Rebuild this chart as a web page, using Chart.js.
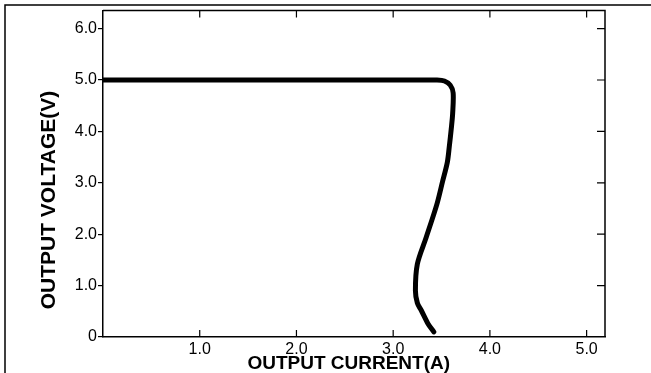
<!DOCTYPE html>
<html>
<head>
<meta charset="utf-8">
<script src="https://cdn.jsdelivr.net/npm/chart.js@4/dist/chart.umd.min.js"></script>
<style>
  html, body { margin: 0; padding: 0; background: #ffffff; }
  #wrap { width: 651px; height: 373px; position: relative; }
</style>
</head>
<body>
<div id="wrap"><canvas id="c" width="651" height="373"></canvas></div>
<script>
// Output current (A) and output voltage (V)
const currentA = [0.00, 3.30, 3.45, 3.53, 3.59, 3.62, 3.615, 3.60, 3.58, 3.56, 3.51, 3.45, 3.34, 3.25, 3.23, 3.25, 3.29, 3.36, 3.42];
const voltageV = [5.00, 5.00, 5.00, 4.98, 4.90, 4.75, 4.35, 4.04, 3.70, 3.40, 3.02, 2.57, 1.93, 1.42, 0.90, 0.66, 0.52, 0.26, 0.10];
const xTickValues = [1, 2, 3, 4, 5];
const yTickValues = [0, 1, 2, 3, 4, 5, 6];
const xTitle = 'OUTPUT CURRENT(A)';
const yTitle = 'OUTPUT VOLTAGE(V)';

const points = currentA.map((x, i) => ({ x: x, y: voltageV[i] }));

const framePlugin = {
  id: 'frame',
  beforeDraw(chart) {
    const ctx = chart.ctx;
    ctx.save();
    ctx.fillStyle = '#ffffff';
    ctx.fillRect(0, 0, chart.width, chart.height);
    ctx.strokeStyle = '#000';
    ctx.lineWidth = 1.5;
    ctx.beginPath();
    ctx.moveTo(5, 373);
    ctx.lineTo(5, 5);
    ctx.lineTo(651, 5);
    ctx.stroke();
    ctx.restore();
  },
  afterDraw(chart) {
    const ctx = chart.ctx;
    const a = chart.chartArea;
    const xs = chart.scales.x, ys = chart.scales.y;
    ctx.save();
    ctx.strokeStyle = '#000';
    ctx.lineWidth = 1.5;
    ctx.beginPath();
    ctx.moveTo(a.left, a.top);
    ctx.lineTo(a.right, a.top);
    ctx.lineTo(a.right, a.bottom);
    ctx.stroke();
    ctx.lineWidth = 1.2;
    ctx.beginPath();
    xTickValues.forEach(v => {
      const px = xs.getPixelForValue(v);
      ctx.moveTo(px, a.bottom);
      ctx.lineTo(px, a.bottom - 7);
      ctx.moveTo(px, a.top);
      ctx.lineTo(px, a.top + 7);
    });
    yTickValues.forEach(v => {
      if (v === 0) return;
      const py = ys.getPixelForValue(v);
      ctx.moveTo(a.right, py);
      ctx.lineTo(a.right - 8, py);
    });
    ctx.stroke();
    ctx.restore();
  }
};

new Chart(document.getElementById('c'), {
  type: 'scatter',
  data: {
    datasets: [{
      data: points,
      showLine: true,
      borderColor: '#000',
      borderWidth: 5,
      borderCapStyle: 'round',
      borderJoinStyle: 'round',
      tension: 0.3,
      pointRadius: 0,
      fill: false
    }]
  },
  options: {
    responsive: false,
    animation: false,
    devicePixelRatio: 1,
    layout: { padding: { left: 37, top: 8, right: 46, bottom: 0 } },
    plugins: { legend: { display: false }, tooltip: { enabled: false } },
    scales: {
      x: {
        type: 'linear',
        min: 0,
        max: 5.19,
        afterFit(s) { s.height = 36; },
        afterBuildTicks(s) { s.ticks = xTickValues.map(v => ({ value: v })); },
        ticks: {
          includeBounds: false,
          padding: 3,
          color: '#000',
          font: { family: 'Liberation Sans', size: 16 },
          maxRotation: 0,
          callback: v => v.toFixed(1)
        },
        grid: { display: true, drawOnChartArea: false, drawTicks: false },
        border: { display: true, color: '#000', width: 1.5 },
        title: {
          display: true,
          text: xTitle + '  ',
          color: '#000',
          font: { family: 'Liberation Sans', size: 19, weight: 'bold', lineHeight: 1 },
          padding: { top: 0, bottom: 0 }
        }
      },
      y: {
        type: 'linear',
        min: 0,
        max: 6.35,
        afterFit(s) { s.width = 66; },
        afterBuildTicks(s) { s.ticks = yTickValues.map(v => ({ value: v })); },
        ticks: {
          includeBounds: false,
          padding: 1,
          color: '#000',
          font: { family: 'Liberation Sans', size: 16 },
          callback: v => (v === 0 ? '0' : v.toFixed(1))
        },
        grid: { display: true, drawOnChartArea: false, drawTicks: true, tickLength: 5, color: '#000', lineWidth: 1.2 },
        border: { display: true, color: '#000', width: 1.5 },
        title: {
          display: true,
          text: yTitle + '         ',
          color: '#000',
          font: { family: 'Liberation Sans', size: 21, weight: 'bold' },
          padding: { top: 0, bottom: 0 }
        }
      }
    }
  },
  plugins: [framePlugin]
});
</script>
</body>
</html>
